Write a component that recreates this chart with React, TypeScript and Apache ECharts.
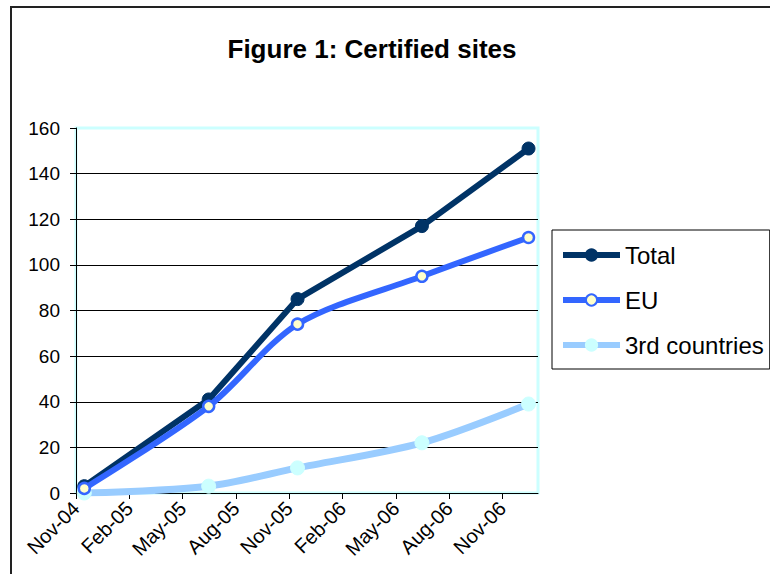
import React, { useEffect, useRef } from "react";
import * as echarts from "echarts";

const titleText = "Figure 1: Certified sites";
const seriesNames = ["Total", "EU", "3rd countries"];
const surveyDates = ["2004-11-15", "2005-06-15", "2005-11-15", "2006-06-15", "2006-12-15"];
const totalValues = [3, 41, 85, 117, 151];
const euValues = [2, 38, 74, 95, 112];
const thirdValues = [0, 3, 11, 22, 39];
const xTickLabels = ["Nov-04", "Feb-05", "May-05", "Aug-05", "Nov-05", "Feb-06", "May-06", "Aug-06", "Nov-06"];
const xTickMonths = [0, 3, 6, 9, 12, 15, 18, 21, 24];

const FONT = "'Liberation Sans Narrow', 'Liberation Sans', Arial, sans-serif";

function monthsSinceStart(d: string): number {
  const [y, m, day] = d.split("-").map(Number);
  return (y - 2004) * 12 + (m - 11) + (day - 1) / 30;
}

export default function App() {
  const ref = useRef<HTMLDivElement>(null);
  useEffect(() => {
    if (!ref.current) return;
    const chart = echarts.init(ref.current, undefined, { renderer: "svg" });
    const xs = surveyDates.map(monthsSinceStart);
    const pair = (vals: number[]) => vals.map((v, i) => [xs[i], v]);
    chart.setOption({
      animation: false,
      backgroundColor: "#ffffff",
      title: {
        text: titleText,
        left: 367,
        textAlign: "center",
        top: 31,
        textStyle: { fontFamily: FONT, fontSize: 26, fontWeight: "bold", color: "#000" },
      },
      graphic: [
        {
          type: "rect",
          shape: { x: 11, y: 7, width: 800, height: 600 },
          style: { fill: "none", stroke: "#222", lineWidth: 2 },
          silent: true,
        },
      ],
      grid: {
        left: 76,
        right: 232,
        top: 128,
        bottom: 81,
        show: true,
        borderColor: "#ccffff",
        borderWidth: 3,
        backgroundColor: "#ffffff",
      },
      legend: {
        orient: "vertical",
        left: 552,
        top: 230,
        backgroundColor: "#fff",
        borderColor: "#000",
        borderWidth: 1,
        borderRadius: 0,
        padding: [13, 6, 12, 8],
        itemWidth: 57,
        itemHeight: 14,
        itemGap: 21,
        lineStyle: { width: 6 },
        textStyle: { fontFamily: FONT, fontSize: 24, color: "#000" },
        data: seriesNames,
      },
      xAxis: {
        type: "value",
        min: 0,
        max: 26,
        interval: 3,
        splitLine: { show: false },
        axisLine: { show: true, lineStyle: { color: "#000", width: 1 } },
        axisTick: { show: true, length: 6, customValues: xTickMonths, lineStyle: { color: "#000" } },
        axisLabel: {
          customValues: xTickMonths,
          rotate: 45,
          margin: 12,
          fontFamily: FONT,
          fontSize: 20,
          color: "#000",
          formatter: (v: number) => {
            const i = xTickMonths.indexOf(Math.round(v));
            return i >= 0 ? xTickLabels[i] : "";
          },
        },
      },
      yAxis: {
        type: "value",
        min: 0,
        max: 160,
        interval: 20,
        axisLine: { show: true, lineStyle: { color: "#000", width: 1 } },
        axisTick: { show: true, length: 6, lineStyle: { color: "#000" } },
        axisLabel: { fontFamily: FONT, fontSize: 19, color: "#000", margin: 16 },
        splitLine: {
          show: true,
          lineStyle: {
            color: ["#000", "#000", "#000", "#000", "#000", "#000", "#000", "#000", "#ccffff"],
            width: 1,
          },
        },
      },
      series: [
        {
          name: seriesNames[0],
          type: "line",
          data: pair(totalValues),
          symbol: "circle",
          symbolSize: 13,
          z: 4,
          lineStyle: { color: "#003366", width: 6 },
          itemStyle: { color: "#003366", borderColor: "#003366", borderWidth: 1 },
        },
        {
          name: seriesNames[1],
          type: "line",
          data: pair(euValues),
          smooth: 0.3,
          symbol: "circle",
          symbolSize: 11,
          z: 5,
          lineStyle: { color: "#3366ff", width: 6 },
          itemStyle: { color: "#ffffcc", borderColor: "#3366ff", borderWidth: 2.5 },
        },
        {
          name: seriesNames[2],
          type: "line",
          data: pair(thirdValues),
          smooth: 0.3,
          symbol: "circle",
          symbolSize: 14,
          z: 3,
          lineStyle: { color: "#99ccff", width: 7 },
          itemStyle: { color: "#ccffff", borderColor: "#ccffff", borderWidth: 1 },
        },
      ],
    });
    return () => chart.dispose();
  }, []);
  return (
    <div
      ref={ref}
      style={{ position: "absolute", left: 0, top: 0, width: 770, height: 574 }}
    />
  );
}
